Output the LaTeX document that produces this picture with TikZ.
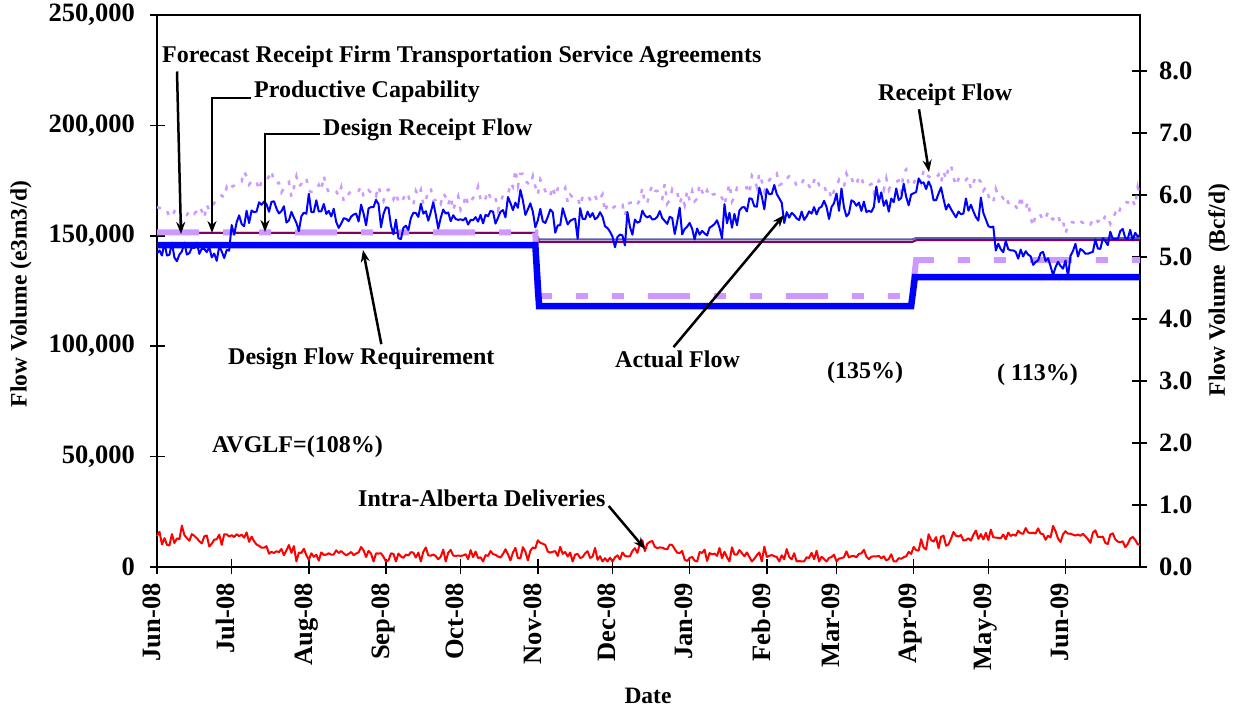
\documentclass[tikz,border=0pt]{standalone}
\usepackage{fontspec}
\setmainfont{Liberation Serif}
\usetikzlibrary{arrows.meta}

\definecolor{flowblue}{RGB}{0,0,255}
\definecolor{lilac}{RGB}{204,153,255}
\definecolor{plum}{RGB}{128,0,100}
\definecolor{slate}{RGB}{90,95,175}

% noisy daily series between knots day/value, stored in \pts
\newcommand{\mkseries}[3]{%
  \xdef\pts{(0,#2)}%
  \foreach \dk/\vk [remember=\dk as \dj (initially 0),
                    remember=\vk as \vj (initially #2)] in {#3}{%
    \pgfmathtruncatemacro{\dn}{\dj+1}%
    \foreach \dd in {\dn,...,\dk}{%
      \pgfmathsetmacro{\vv}{max(2.5,\vj+(\vk-\vj)*(\dd-\dj)/(\dk-\dj)+#1*rand*abs(rand))}%
      \xdef\pts{\pts -- (\dd,\vv)}%
    }%
  }%
}

\begin{document}
\begin{tikzpicture}[x=1pt,y=-1pt,
  ticklbl/.style={font=\fontsize{26.5}{30}\selectfont\bfseries,inner sep=2pt},
  ttl/.style={font=\fontsize{23.5}{28}\selectfont\bfseries,inner sep=2pt},
  annot/.style={font=\fontsize{24}{28}\selectfont\bfseries,inner sep=3pt},
  pointer/.style={line width=2.5pt,-{Stealth[length=12pt,width=9pt]}},
  pcline/.style={plum,line width=2pt},
  drfline/.style={slate,line width=2pt},
  ftline/.style={lilac,line width=6pt,
    dash pattern=on 42pt off 24pt on 12pt off 24pt on 12pt off 24pt},
  dfrline/.style={flowblue,line width=6.5pt},
  rfline/.style={lilac,line width=2.5pt,dash pattern=on 4pt off 8pt},
  afline/.style={flowblue,line width=2pt,line join=round},
  ialine/.style={red,line width=2pt,line join=round}]
\useasboundingbox (0,0) rectangle (1236,708);
\pgfmathsetseed{11}

% frame and ticks
\draw[line width=1.5pt] (157,15) rectangle (1140,567);
\foreach \v/\t in {0/0,50/{50,000},100/{100,000},150/{150,000},200/{200,000},250/{250,000}}{
  \draw[line width=1.5pt] (150,{567-2.208*\v}) -- (165,{567-2.208*\v});
  \node[ticklbl,anchor=east] (yl\v) at (137,{567-2.208*\v}) {\t};
}
\foreach \v in {0,...,8}{
  \draw[line width=1.5pt] (1132,{567-62*\v}) -- (1147,{567-62*\v});
  \node[ticklbl,anchor=west] (yr\v) at (1157,{567-62*\v}) {\v.0};
}
\foreach \d/\m [count=\i] in {0/Jun-08,30/Jul-08,61/Aug-08,92/Sep-08,122/Oct-08,
  153/Nov-08,183/Dec-08,214/Jan-09,245/Feb-09,273/Mar-09,304/Apr-09,334/May-09,365/Jun-09}{
  \draw[line width=1.5pt] ({157+2.489*\d},559) -- ({157+2.489*\d},574);
  \node[ticklbl,rotate=90,anchor=east,text height=0.66em,text depth=0pt]
    (xl\i) at ({157+2.489*\d},581) {\m};
}
\node[ttl,rotate=90] (yLeftTtl) at (21,294) {Flow Volume (e3m3/d)};
\node[ttl,rotate=90] (yRightTtl) at (1219,290) {Flow Volume\ \ (Bcf/d)};
\node[ttl,anchor=base] (xTtl) at (648,703) {Date};

% data, days from 1 Jun 2008 and 1000 e3m3/d
\begin{scope}[shift={(157,567)},xscale=2.489,yscale=-2.208]
  \draw[drfline] (0,151.3) -- (152,151.3) -- (153.5,148.4) -- (303.5,148.4) -- (305,149) -- (395,149);
  \draw[pcline] (0,151.3) -- (152,151.3) -- (153.5,147.2) -- (303.5,147.2) -- (305,148) -- (395,148);
  \draw[ftline] (0,151.5) -- (152,151.5) -- (153,122.7) -- (303.3,122.7) -- (305,139) -- (395,139);
  \draw[dfrline] (0,145.8) -- (152,145.8) -- (153.5,118.2) -- (303,118.2) -- (304.5,131.3) -- (395,131.3);
  \mkseries{7}{163}{10/157,20/162,35/175,45/174,60/171,80/170,100/168,120/166,138/167,
    146/176,160/171,184/163,200/168,226/168,249/177,270/172,290/173,311/178,325/176,
    339/168,351/160,370/156,385/160,395/170}
  \draw[rfline] \pts;
  \mkseries{9}{142}{8/141,14/142,28/143,33/157,40/162,45/168,50/161,57/158,64/164,
    72/156,86/163,98/153,108/161,123/157,138/160,146/164,154/158,162/156,178/159,
    184/149,196/159,210/156,218/152,226/156,240/166,249/170,254/156,266/163,278/164,
    290/166,305/170,311/172,321/161,331/160,339/145,351/140,363/137,375/143,385/147,395/152}
  \draw[afline] \pts;
  \mkseries{5}{14}{5/11,10/15,20/12,30/14,38/13,45/7,60/6,90/6,120/5,135/5,150/7,
    155/9,165/5,180/4,190/5,194/11,205/8,215/5,225/6,240/5,260/4,280/5,302/4,306/10,
    315/12,330/14,338/13,345/15,370/15,385/13,395/10}
  \draw[ialine] \pts;
\end{scope}

% labels and pointers
\coordinate (ftTip) at (181,234);
\coordinate (pcTip) at (212,233);
\coordinate (drfTip) at (265,232);
\coordinate (rfTip) at (929,172);
\coordinate (dfrTip) at (363,250);
\coordinate (afTip) at (784,215);
\coordinate (iaTip) at (645,549);

\node[annot,anchor=base west] (ftLbl) at (159,63) {Forecast Receipt Firm Transportation Service Agreements};
\node[annot,anchor=base west] (pcLbl) at (251,98) {Productive Capability};
\node[annot,anchor=base west] (drfLbl) at (320,136) {Design Receipt Flow};
\node[annot,anchor=base west] (rfLbl) at (875,101) {Receipt Flow};
\node[annot,anchor=base west] (dfrLbl) at (225,364) {Design Flow Requirement};
\node[annot,anchor=base west] (afLbl) at (612,367) {Actual Flow};
\node[annot,anchor=base west] (pct135) at (824,378) {(135\%)};
\node[annot,anchor=base west] (pct113) at (994,380) {( 113\%)};
\node[annot,anchor=base west] (avgLbl) at (209,452) {AVGLF=(108\%)};
\node[annot,anchor=base west] (iaLbl) at (355,506) {Intra-Alberta Deliveries};

\draw[pointer] ([xshift=18pt]ftLbl.south west) -- (ftTip);
\draw[pointer] (pcLbl.base west) -| (pcTip);
\draw[pointer] ([yshift=2pt]drfLbl.base west) -| (drfTip);
\draw[pointer] ([xshift=44pt]rfLbl.south west) -- (rfTip);
\draw[pointer] ([xshift=20pt]dfrLbl.north) -- (dfrTip);
\draw[pointer] ([xshift=-4pt]afLbl.north) -- (afTip);
\draw[pointer] (iaLbl.base east) -- (iaTip);
\end{tikzpicture}
\end{document}
